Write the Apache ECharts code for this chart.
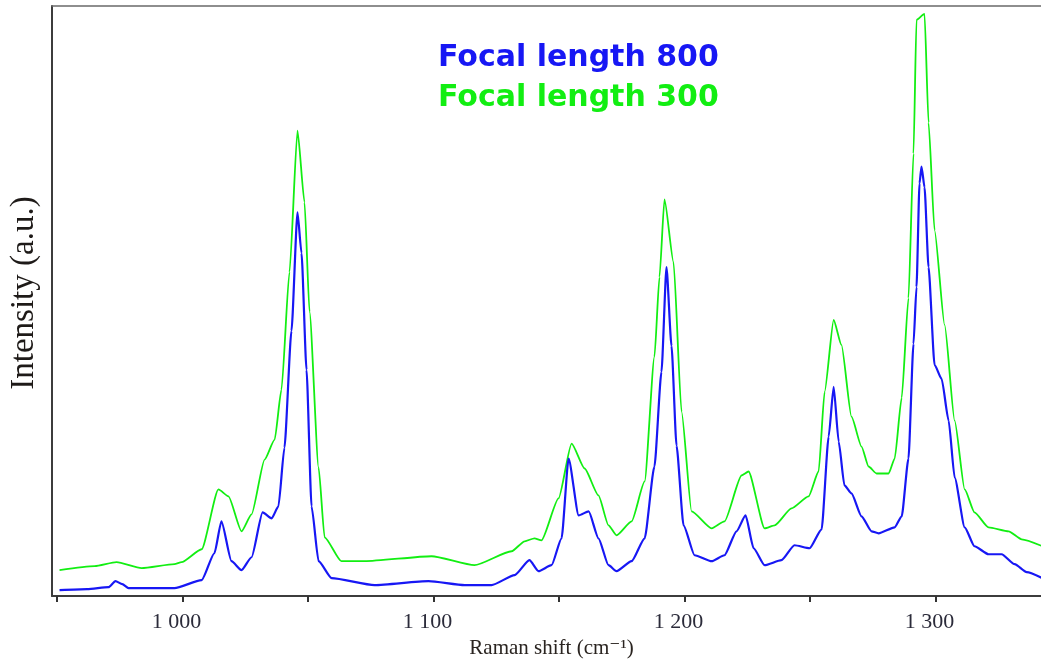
<!DOCTYPE html>
<html>
<head>
<meta charset="utf-8">
<title>Raman spectra</title>
<script src="https://cdn.jsdelivr.net/npm/echarts@6/dist/echarts.min.js"></script>
<style>
  html, body { margin: 0; padding: 0; background: #ffffff; }
  #chart { width: 1041px; height: 664px; }
</style>
</head>
<body>
<div id="chart"></div>
<script>
// Raman shift (cm-1) and intensity (a.u.) for the 800 mm focal length spectrum
const shift800 = [951, 962, 970.5, 973.3, 976, 978.5, 996.8, 1007.6, 1012.7, 1015.5, 1019.5, 1023.5, 1027.5, 1031.9, 1035.5, 1038.2, 1040.6, 1043.4, 1045.8, 1047.4, 1049.4, 1051.4, 1054.2, 1059.4, 1076.5, 1098, 1112.4, 1123.1, 1132.3, 1138.2, 1141.8, 1147, 1151, 1153.8, 1157.8, 1161.8, 1165.7, 1169.7, 1172.9, 1178.9, 1184.1, 1188, 1190.8, 1192.8, 1194.8, 1196.8, 1199.6, 1204, 1210.8, 1215.9, 1220.7, 1224.3, 1227.5, 1231.9, 1238.6, 1243.8, 1249.8, 1254.6, 1257.4, 1259.4, 1261.4, 1263.7, 1266.5, 1270.5, 1274.5, 1277.3, 1283.7, 1286.5, 1289.2, 1291.2, 1292.4, 1293.6, 1294.4, 1295.6, 1297.2, 1299.6, 1302.4, 1305.2, 1307.6, 1311.6, 1315.5, 1321.1, 1326.3, 1331.5, 1336.3, 1342.6];
const int800 = [6, 7, 9, 15, 12, 8, 8, 16, 43, 75, 35, 26, 39, 84, 78, 90, 149, 266, 385, 344, 227, 90, 35, 18, 11, 15, 11, 11, 21, 36, 25, 31, 58, 138, 81, 85, 58, 31, 25, 35, 58, 130, 225, 330, 251, 151, 71, 41, 35, 41, 65, 81, 48, 31, 36, 51, 48, 67, 160, 210, 155, 111, 103, 80, 65, 63, 69, 80, 138, 253, 310, 414, 431, 410, 330, 232, 218, 176, 119, 69, 50, 42, 42, 32, 24, 18];

// Raman shift (cm-1) and intensity (a.u.) for the 300 mm focal length spectrum
const shift300 = [951, 965, 973.7, 983.7, 996.8, 999.6, 1007.6, 1014.3, 1018.3, 1023.5, 1027.5, 1032.7, 1036.7, 1039.4, 1042.6, 1045.8, 1048.6, 1050.6, 1054.2, 1056.6, 1063.3, 1072.5, 1099.2, 1116.3, 1131.1, 1136.3, 1140.2, 1143, 1149.8, 1155, 1160.2, 1165.7, 1169.7, 1172.9, 1178.9, 1184.1, 1188, 1190, 1192, 1195.6, 1198.8, 1202.8, 1210.8, 1215.9, 1222.7, 1225.5, 1231.9, 1235.9, 1242.6, 1249.4, 1253.4, 1255.8, 1259.4, 1262.5, 1266.5, 1270.5, 1273.3, 1276.5, 1281.3, 1283.7, 1286.5, 1289.2, 1291.2, 1292.4, 1295.6, 1297.2, 1299.6, 1303.6, 1307.6, 1311.6, 1315.5, 1321.1, 1329.1, 1334.3, 1342.6];
const int300 = [26, 30, 34, 28, 32, 34, 47, 107, 100, 65, 82, 137, 157, 207, 325, 467, 395, 285, 129, 59, 35, 35, 40, 31, 45, 55, 58, 56, 98, 153, 128, 101, 71, 61, 75, 115, 240, 320, 398, 335, 185, 85, 68, 75, 121, 125, 68, 71, 88, 100, 125, 205, 277, 252, 180, 150, 130, 123, 123, 138, 199, 299, 444, 578, 584, 475, 367, 272, 176, 107, 84, 69, 65, 57, 50];

// Axis ticks and labels
const majorTicks = [1000, 1100, 1200, 1300];
const allTicks = [950, 1000, 1050, 1100, 1150, 1200, 1250, 1300];
const seriesNames = ['Focal length 800', 'Focal length 300'];

const zip = (xs, ys) => xs.map((x, i) => [x, ys[i]]);

const chart = echarts.init(document.getElementById('chart'), null, { renderer: 'canvas' });

const serif = "'Liberation Serif', 'DejaVu Serif', serif";
const xMin = 948, xMax = 1342;
const blue = '#1717f4';
const green = '#12ee12';

chart.setOption({
  animation: false,
  backgroundColor: '#ffffff',
  grid: { left: 52, right: 0, top: 6, bottom: 66, containLabel: false },
  legend: {
    data: [
      { name: seriesNames[0], textStyle: { color: blue } },
      { name: seriesNames[1], textStyle: { color: green } }
    ],
    orient: 'vertical',
    left: 428,
    top: 38,
    icon: 'none',
    itemWidth: 0,
    itemHeight: 30,
    itemGap: 10,
    selectedMode: false,
    textStyle: {
      fontFamily: "'DejaVu Sans', sans-serif",
      fontWeight: 'bold',
      fontSize: 30
    }
  },
  xAxis: [
    {
      type: 'value',
      min: xMin,
      max: xMax,
      position: 'bottom',
      name: 'Raman shift (cm\u207B\u00B9)',
      nameLocation: 'middle',
      nameGap: 41,
      nameTextStyle: { fontFamily: serif, fontSize: 21, color: '#2a2420', padding: [0, 0, 0, 10] },
      axisLine: { show: true, lineStyle: { color: '#3c3c3c', width: 2 } },
      axisTick: { show: true, customValues: allTicks, length: 6, lineStyle: { color: '#333333', width: 2 } },
      axisLabel: {
        customValues: majorTicks,
        formatter: v => String(v).replace(/\B(?=(\d{3})+(?!\d))/g, ' '),
        fontFamily: serif,
        fontSize: 22,
        color: '#2b2b3a',
        margin: 15,
        padding: [0, 12, 0, 0]
      },
      splitLine: { show: false }
    },
    {
      type: 'value',
      min: xMin,
      max: xMax,
      position: 'top',
      axisLine: { show: true, lineStyle: { color: '#6a6a6a', width: 1.5 } },
      axisTick: { show: false },
      axisLabel: { show: false },
      splitLine: { show: false }
    }
  ],
  yAxis: {
    type: 'value',
    min: 0,
    max: 592,
    name: 'Intensity (a.u.)',
    nameLocation: 'middle',
    nameGap: 11,
    nameTextStyle: { fontFamily: serif, fontSize: 33, color: '#1e1a18', padding: [0, 0, 0, 16] },
    axisLine: { show: true, lineStyle: { color: '#3c3c3c', width: 2 } },
    axisTick: { show: false },
    axisLabel: { show: false },
    splitLine: { show: false }
  },
  series: [
    {
      name: seriesNames[1],
      type: 'line',
      data: zip(shift300, int300),
      showSymbol: false,
      smooth: 0.2,
      smoothMonotone: 'x',
      lineStyle: { color: green, width: 1.8 },
      itemStyle: { color: green },
      z: 2
    },
    {
      name: seriesNames[0],
      type: 'line',
      data: zip(shift800, int800),
      showSymbol: false,
      smooth: 0.2,
      smoothMonotone: 'x',
      lineStyle: { color: blue, width: 2.2 },
      itemStyle: { color: blue },
      z: 3
    }
  ]
});
</script>
</body>
</html>
